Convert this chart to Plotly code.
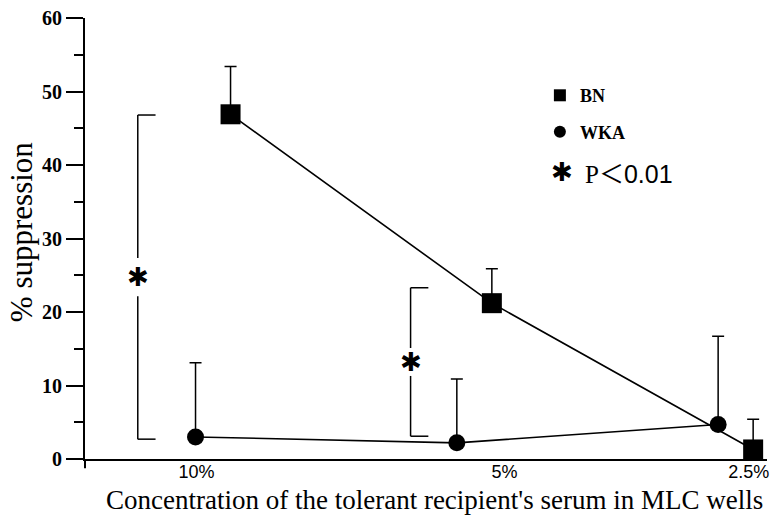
import plotly.graph_objects as go

# ---------------- data ----------------
categories = ["10%", "5%", "2.5%"]
bn_values = [46.9, 21.2, 1.3]
bn_err = [6.5, 4.7, 4.1]
wka_values = [3.0, 2.2, 4.7]
wka_err = [10.1, 8.7, 12.0]
# significance brackets (category index, upper end, lower end)
sig_cats = [0, 1]
sig_upper = [46.8, 23.3]
sig_lower = [2.7, 3.1]
y_ticks = [0, 10, 20, 30, 40, 50, 60]

# ---------------- layout helpers ----------------
cat_pos = list(range(len(categories)))
DODGE = 0.067
bn_x = [c + DODGE for c in cat_pos]
wka_x = [c - DODGE for c in cat_pos]
tick_shift = [-0.063, 0.115, 0.05]
tick_x = [c + s for c, s in zip(cat_pos, tick_shift)]
bracket_shift = [-0.288, -0.244]
bracket_gap = [2.6, 1.9]

SERIF = "Liberation Serif, Times New Roman, serif"
SANS = "Liberation Sans, Arial, sans-serif"
STAR = "✱"

fig = go.Figure()

fig.add_trace(go.Scatter(
    x=wka_x, y=wka_values, mode="lines+markers", showlegend=False,
    line=dict(color="black", width=1.6),
    marker=dict(symbol="circle", size=17, color="black"),
    error_y=dict(type="data", symmetric=False, array=wka_err,
                 arrayminus=[0] * len(wka_err), color="black",
                 thickness=1.5, width=6),
))
fig.add_trace(go.Scatter(
    x=bn_x, y=bn_values, mode="lines+markers", showlegend=False,
    line=dict(color="black", width=1.6),
    marker=dict(symbol="square", size=20, color="black"),
    error_y=dict(type="data", symmetric=False, array=bn_err,
                 arrayminus=[0] * len(bn_err), color="black",
                 thickness=1.5, width=6),
))

# legend entries
fig.add_trace(go.Scatter(x=[None], y=[None], mode="markers", name="<b>BN</b>",
                         legendgroup="a",
                         marker=dict(symbol="square", size=12, color="black")))
fig.add_trace(go.Scatter(x=[None], y=[None], mode="markers", name="<b>WKA</b>",
                         legendgroup="b",
                         marker=dict(symbol="circle", size=12, color="black")))

# significance brackets
shapes = []
annotations = []
for c, up, lo, bs, g in zip(sig_cats, sig_upper, sig_lower, bracket_shift, bracket_gap):
    bx = c + bs
    mid = (up + lo) / 2
    ln = dict(color="black", width=1.5)
    shapes += [
        dict(type="line", xref="x", yref="y", x0=bx, x1=bx, y0=lo, y1=mid - g, line=ln),
        dict(type="line", xref="x", yref="y", x0=bx, x1=bx, y0=mid + g, y1=up, line=ln),
        dict(type="line", xref="x", yref="y", x0=bx, x1=bx + 0.068, y0=up, y1=up, line=ln),
        dict(type="line", xref="x", yref="y", x0=bx, x1=bx + 0.068, y0=lo, y1=lo, line=ln),
    ]
    annotations.append(dict(x=bx, y=mid, xref="x", yref="y", text=STAR, showarrow=False,
                            font=dict(family="DejaVu Sans", size=26, color="black"),
                            xanchor="center", yanchor="middle"))

# y axis extension below x axis
shapes.append(dict(type="line", xref="paper", yref="paper", x0=0, x1=0, y0=0, y1=-0.021,
                   line=dict(color="black", width=2)))

# P value note
annotations.append(dict(x=0.699, y=0.65, xref="paper", yref="paper", text=STAR,
                        showarrow=False, xanchor="center", yanchor="middle",
                        font=dict(family="DejaVu Sans", size=26, color="black")))
annotations.append(dict(x=0.73, y=0.65, xref="paper", yref="paper",
                        text="P<span style='font-family:Noto Sans CJK JP'>＜</span>"
                             "<span style='font-family:Liberation Sans'>0.01</span>",
                        showarrow=False, xanchor="left", yanchor="middle",
                        font=dict(family=SERIF, size=25, color="black")))

# axis titles
annotations.append(dict(x=-0.092, y=0.515, xref="paper", yref="paper",
                        text="% suppression", textangle=-90, showarrow=False,
                        xanchor="center", yanchor="middle",
                        font=dict(family=SERIF, size=31, color="black")))
annotations.append(dict(x=0.513, y=-0.092, xref="paper", yref="paper",
                        text="Concentration of the tolerant recipient's serum in MLC wells",
                        showarrow=False, xanchor="center", yanchor="middle",
                        font=dict(family=SERIF, size=27, color="black")))

fig.update_layout(
    width=776, height=519,
    margin=dict(l=85, r=7, t=14, b=60),
    paper_bgcolor="white", plot_bgcolor="white",
    shapes=shapes, annotations=annotations,
    showlegend=True,
    legend=dict(x=0.667, y=0.866, xanchor="left", yanchor="top",
                font=dict(family=SERIF, size=18, color="black"),
                tracegroupgap=10, bgcolor="rgba(0,0,0,0)"),
    xaxis=dict(range=[-0.49, 2.12], tickmode="array", tickvals=tick_x,
               ticktext=categories, ticks="", showgrid=False, zeroline=False,
               showline=True, linecolor="black", linewidth=2,
               ticklabelstandoff=-5,
               tickfont=dict(family=SANS, size=18, color="black")),
    yaxis=dict(range=[0, 60], tickmode="array", tickvals=y_ticks,
               ticktext=[f"<b>{v}</b>" for v in y_ticks],
               ticks="outside", ticklen=17, tickwidth=2, tickcolor="black",
               minor=dict(dtick=5, ticks="outside", ticklen=9, tickwidth=2,
                          tickcolor="black", showgrid=False),
               showgrid=False, zeroline=False, showline=True,
               linecolor="black", linewidth=2,
               tickfont=dict(family=SERIF, size=20, color="black")),
)

fig.write_html("out.html", config={"displayModeBar": False},
               post_script="document.body.style.margin='0px';document.body.style.overflow='hidden';")
